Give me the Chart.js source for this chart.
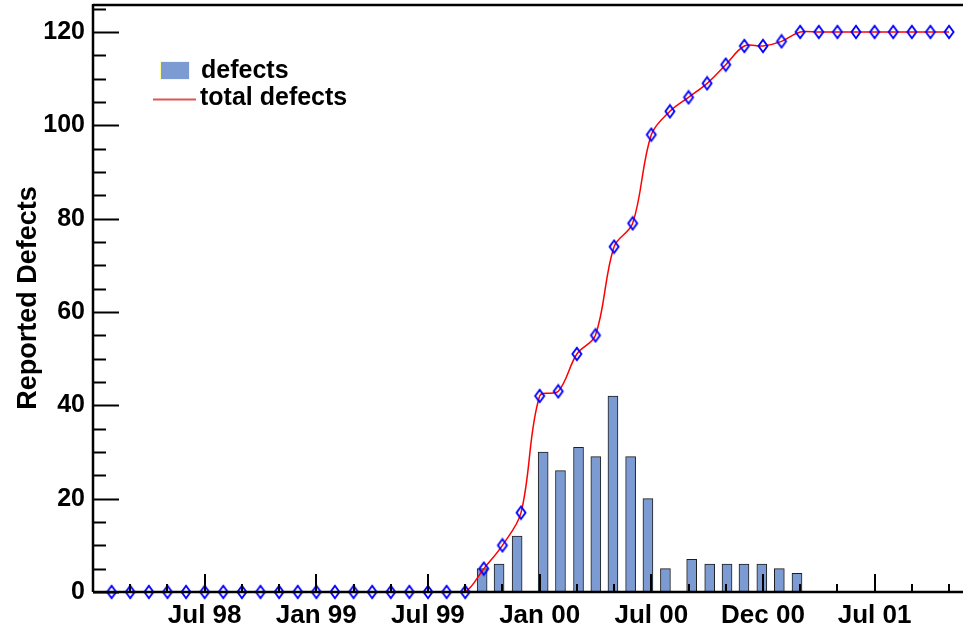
<!DOCTYPE html>
<html>
<head>
<meta charset="utf-8">
<title>Reported Defects</title>
<script src="https://cdn.jsdelivr.net/npm/chart.js@4.4.1/dist/chart.umd.min.js"></script>
<style>
  html, body { margin: 0; padding: 0; background: #fff; }
  #wrap { width: 963px; height: 633px; position: relative; }
</style>
</head>
<body>
<div id="wrap"><canvas id="defectsChart"></canvas></div>
<script>
// months counted from Feb 98 (0) -- one cumulative point per month
const totalDefects = [
    0, 0, 0, 0, 0, 0, 0, 0, 0, 0,
    0, 0, 0, 0, 0, 0, 0, 0, 0, 0,
    5, 10, 17, 42, 43, 51, 55, 74, 79, 98,
    103, 106, 109, 113, 117, 117, 118, 120, 120, 120,
    120, 120, 120, 120, 120, 120
];

// histogram bins (4-week bins, month position of each bin centre)
const binMonths = [19.91, 20.82, 21.79, 23.19, 24.12, 25.09, 26.02, 26.94, 27.89,
                   28.82, 29.76, 31.17, 32.14, 33.07, 33.98, 34.94, 35.88, 36.83];
const defects = [5, 6, 12, 30, 26, 31, 29, 42, 29, 20, 5, 7, 6, 6, 6, 6, 5, 4];

const xTickMonths = [5, 11, 17, 23, 29, 35, 41];
const xTickLabels = ['Jul 98', 'Jan 99', 'Jul 99', 'Jan 00', 'Jul 00', 'Dec 00', 'Jul 01'];
const yTicks = [0, 20, 40, 60, 80, 100, 120];

const FONT = "'Liberation Sans', Arial, Helvetica, sans-serif";

// open diamond marker (ROOT style 27)
function diamondMarker() {
    const c = document.createElement('canvas');
    c.width = 14; c.height = 16;
    const g = c.getContext('2d');
    g.strokeStyle = '#0000ff';
    g.lineWidth = 1.9;
    g.beginPath();
    g.moveTo(7, 1.8);
    g.lineTo(11.5, 8);
    g.lineTo(7, 14.2);
    g.lineTo(2.5, 8);
    g.closePath();
    g.stroke();
    return c;
}

// Frame, inward tick marks and the legend box
const frameAndLegend = {
    id: 'frameAndLegend',
    afterDraw(chart) {
        const { ctx, chartArea: a, scales: { x, y } } = chart;
        ctx.save();
        ctx.strokeStyle = '#000';
        ctx.lineWidth = 2;

        // y ticks every 5, major every 20
        for (let v = 0; v <= y.max; v += 5) {
            const py = Math.round(y.getPixelForValue(v)) + 0.5;
            const len = (v % 20 === 0) ? 26 : 13;
            ctx.beginPath();
            ctx.moveTo(a.left, py);
            ctx.lineTo(a.left + len, py);
            ctx.stroke();
        }
        // x ticks every 2 months, labelled ones longer
        for (let m = 1; m <= x.max; m += 2) {
            const px = Math.round(x.getPixelForValue(m));
            const len = xTickMonths.includes(m) ? 18 : 8;
            ctx.beginPath();
            ctx.moveTo(px, a.bottom);
            ctx.lineTo(px, a.bottom - len);
            ctx.stroke();
        }

        // frame
        ctx.lineWidth = 2.5;
        ctx.beginPath();
        ctx.moveTo(a.left, a.top + 1);
        ctx.lineTo(a.right, a.top + 1);
        ctx.moveTo(a.left, a.top);
        ctx.lineTo(a.left, a.bottom);
        ctx.moveTo(a.left, a.bottom);
        ctx.lineTo(a.right, a.bottom);
        ctx.stroke();

        // legend
        const lx = a.left + 67, ly = a.top + 57;
        ctx.fillStyle = '#ffff99';
        ctx.fillRect(lx, ly, 30, 19);
        ctx.fillStyle = '#7b9bd2';
        ctx.fillRect(lx + 1, ly + 1, 28, 17);
        ctx.strokeStyle = '#dd5555';
        ctx.lineWidth = 2;
        ctx.beginPath();
        ctx.moveTo(lx - 7, ly + 38.5);
        ctx.lineTo(lx + 36, ly + 38.5);
        ctx.stroke();

        ctx.fillStyle = '#000';
        ctx.font = 'bold 25px ' + FONT;
        ctx.textBaseline = 'alphabetic';
        ctx.textAlign = 'left';
        ctx.fillText('defects', lx + 41, ly + 17);
        ctx.fillText('total defects', lx + 40, ly + 44);
        ctx.restore();
    }
};

document.addEventListener('DOMContentLoaded', () => {
    const ctx = document.getElementById('defectsChart');

    new Chart(ctx, {
        data: {
            datasets: [
                {
                    type: 'line',
                    label: 'total defects',
                    data: totalDefects.map((v, i) => ({ x: i, y: v })),
                    borderColor: '#ff0000',
                    borderWidth: 1.5,
                    tension: 0.35,
                    pointStyle: diamondMarker(),
                    pointRadius: 6,
                    fill: false,
                    clip: 8,
                    order: 0
                },
                {
                    type: 'bar',
                    label: 'defects',
                    data: binMonths.map((m, i) => ({ x: m, y: defects[i] })),
                    backgroundColor: '#7b9bd2',
                    borderColor: '#1e1e1e',
                    borderWidth: 1,
                    barThickness: 10,
                    order: 1
                }
            ]
        },
        options: {
            responsive: true,
            maintainAspectRatio: false,
            animation: false,
            layout: { autoPadding: false, padding: { top: 4, right: 0, left: 0, bottom: 0 } },
            plugins: {
                legend: { display: false },
                tooltip: { enabled: false }
            },
            scales: {
                x: {
                    type: 'linear',
                    min: -1,
                    max: 45.75,
                    offset: false,
                    grid: { display: false, drawTicks: false },
                    border: { display: false },
                    afterBuildTicks: (scale) => {
                        scale.ticks = xTickMonths.map(v => ({ value: v }));
                    },
                    afterFit: (scale) => {
                        scale.height = 41;
                        scale.paddingLeft = 0;
                        scale.paddingRight = 0;
                    },
                    ticks: {
                        autoSkip: false,
                        maxRotation: 0,
                        padding: 8,
                        color: '#000',
                        font: { family: FONT, size: 26, weight: 'bold' },
                        callback: (value) => xTickLabels[xTickMonths.indexOf(value)]
                    }
                },
                y: {
                    min: 0,
                    max: 126,
                    grid: { display: false, drawTicks: false },
                    border: { display: false },
                    afterBuildTicks: (scale) => {
                        scale.ticks = yTicks.map(v => ({ value: v }));
                    },
                    afterFit: (scale) => {
                        scale.width = 93;
                        scale.paddingTop = 0;
                        scale.paddingBottom = 0;
                    },
                    ticks: {
                        padding: 8,
                        color: '#000',
                        font: { family: FONT, size: 25, weight: 'bold' }
                    },
                    title: {
                        display: true,
                        text: 'Reported Defects',
                        color: '#000',
                        padding: { top: 12, bottom: 0 },
                        font: { family: FONT, size: 27, weight: 'bold' }
                    }
                }
            }
        },
        plugins: [frameAndLegend]
    });
});
</script>
</body>
</html>
